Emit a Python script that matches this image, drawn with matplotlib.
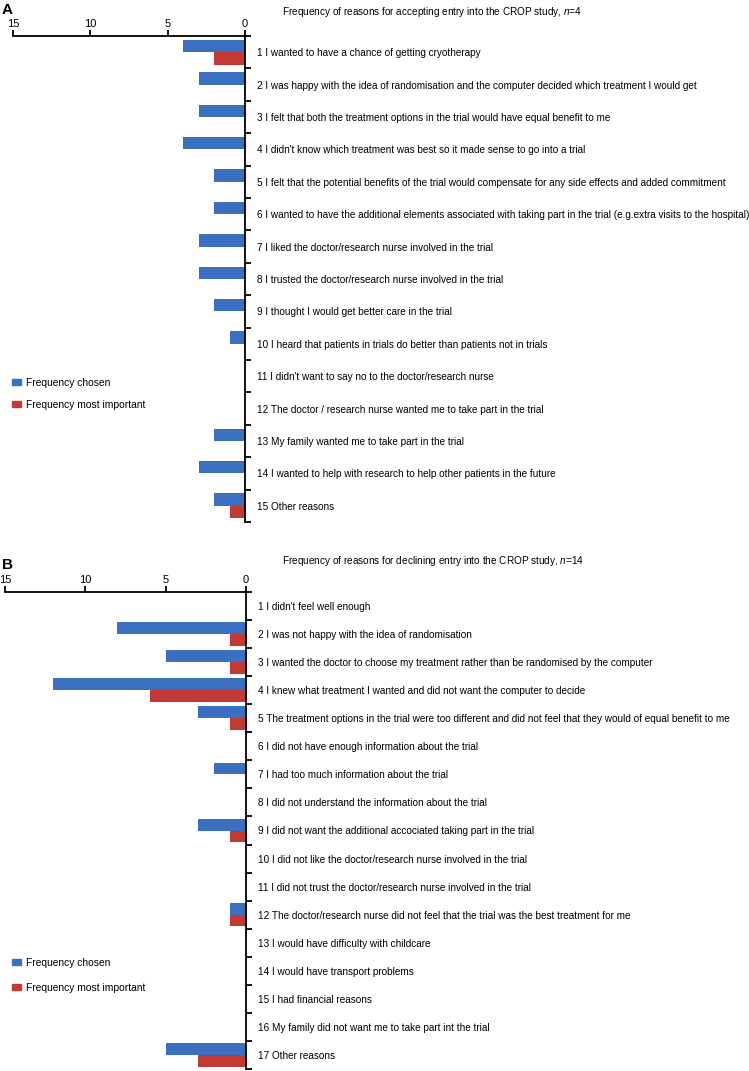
"""Horizontal bar charts: reasons for accepting / declining entry into the CROP study."""

import matplotlib

matplotlib.use("Agg")
import matplotlib.pyplot as plt  # noqa: E402
import numpy as np  # noqa: E402
from matplotlib.patches import Patch  # noqa: E402

plt.rcParams["font.family"] = ["Liberation Sans", "DejaVu Sans"]
plt.rcParams["mathtext.fontset"] = "custom"
plt.rcParams["mathtext.rm"] = "Liberation Sans"
plt.rcParams["mathtext.it"] = "Liberation Sans:italic"

accept_labels = [
    "1 I wanted to have a chance of getting cryotherapy",
    "2 I was happy with the idea of randomisation and the computer decided which treatment I would get",
    "3 I felt that both the treatment options in the trial would have equal benefit to me",
    "4 I didn't know which treatment was best so it made sense to go into a trial",
    "5 I felt that the potential benefits of the trial would compensate for any side effects and added commitment",
    "6 I wanted to have the additional elements associated with taking part in the trial (e.g.extra visits to the hospital)",
    "7 I liked the doctor/research nurse involved in the trial",
    "8 I trusted the doctor/research nurse involved in the trial",
    "9 I thought I would get better care in the trial",
    "10 I heard that patients in trials do better than patients not in trials",
    "11 I didn't want to say no to the doctor/research nurse",
    "12 The doctor / research nurse wanted me to take part in the trial",
    "13 My family wanted me to take part in the trial",
    "14 I wanted to help with research to help other patients in the future",
    "15 Other reasons",
]
accept_chosen = [4, 3, 3, 4, 2, 2, 3, 3, 2, 1, 0, 0, 2, 3, 2]
accept_important = [2, 0, 0, 0, 0, 0, 0, 0, 0, 0, 0, 0, 0, 0, 1]

decline_labels = [
    "1 I didn't feel well enough",
    "2 I was not happy with the idea of randomisation",
    "3 I wanted the doctor to choose my treatment rather than be randomised by the computer",
    "4 I knew what treatment I wanted and did not want the computer to decide",
    "5 The treatment options in the trial were too different and did not feel that they would of equal benefit to me",
    "6 I did not have enough information about the trial",
    "7 I had too much information about the trial",
    "8 I did not understand the information about the trial",
    "9 I did not want the additional accociated taking part in the trial",
    "10 I did not like the doctor/research nurse involved in the trial",
    "11 I did not trust the doctor/research nurse involved in the trial",
    "12 The doctor/research nurse did not feel that the trial was the best treatment for me",
    "13 I would have difficulty with childcare",
    "14 I would have transport problems",
    "15 I had financial reasons",
    "16 My family did not want me to take part int the trial",
    "17 Other reasons",
]
decline_chosen = [0, 8, 5, 12, 3, 0, 2, 0, 3, 0, 0, 1, 0, 0, 0, 0, 5]
decline_important = [0, 1, 1, 6, 1, 0, 0, 0, 1, 0, 0, 1, 0, 0, 0, 0, 3]

xticks = [0, 5, 10, 15]
BLUE = "#3b6fc2"
RED = "#c23a36"
W, H = 749, 1071


def px_axes(fig, left, right, top, bottom):
    return fig.add_axes([left / W, 1 - bottom / H, (right - left) / W, (bottom - top) / H])


def draw_panel(ax, labels, chosen, important, bar_h):
    n = len(labels)
    y = np.arange(n)
    ax.barh(y - bar_h / 2, chosen, height=bar_h, color=BLUE, edgecolor="none")
    ax.barh(y + bar_h / 2, important, height=bar_h, color=RED, edgecolor="none")
    ax.set_xlim(15, 0)
    ax.set_ylim(n - 0.5, -0.5)
    for side in ("left", "bottom"):
        ax.spines[side].set_visible(False)
    for side in ("top", "right"):
        ax.spines[side].set_linewidth(1.3)
    ax.xaxis.tick_top()
    ax.set_xticks(xticks)
    ax.tick_params(axis="x", direction="out", length=4, width=1.3, labelsize=8, pad=1)
    ax.yaxis.tick_right()
    ax.set_yticks(y)
    ax.set_yticklabels(labels)
    ax.tick_params(axis="y", which="major", length=0, pad=8.5, labelsize=7.2)
    ax.set_yticks(np.arange(n + 1) - 0.5, minor=True)
    ax.tick_params(axis="y", which="minor", direction="out", length=4, width=1.3)


fig = plt.figure(figsize=(W / 100, H / 100), dpi=100)

ax_a = px_axes(fig, 13, 245, 36, 522)
draw_panel(ax_a, accept_labels, accept_chosen, accept_important, 0.38)
ax_b = px_axes(fig, 5, 246, 592, 1069)
draw_panel(ax_b, decline_labels, decline_chosen, decline_important, 0.42)

fig.text(282 / W, 1 - 12 / H, "Frequency of reasons for accepting entry into the CROP study, $n$=4",
         fontsize=7.2, va="center", ha="left")
fig.text(282 / W, 1 - 561 / H, "Frequency of reasons for declining entry into the CROP study, $n$=14",
         fontsize=7.2, va="center", ha="left")
fig.text(2 / W, 1 - 10 / H, "A", fontsize=11, fontweight="bold", va="center", ha="left")
fig.text(2 / W, 1 - 565 / H, "B", fontsize=11, fontweight="bold", va="center", ha="left")

handles = [Patch(color=BLUE, label="Frequency chosen"),
           Patch(color=RED, label="Frequency most important")]
for top_px, spacing in ((378, 1.15), (958, 1.45)):
    fig.legend(handles=handles, loc="upper left", bbox_to_anchor=(12 / W, 1 - top_px / H),
               frameon=False, fontsize=7.4, handlelength=0.9, handleheight=0.55,
               handletextpad=0.5, labelspacing=spacing, borderpad=0, borderaxespad=0)

fig.savefig("out.png", dpi=100)
plt.close(fig)
